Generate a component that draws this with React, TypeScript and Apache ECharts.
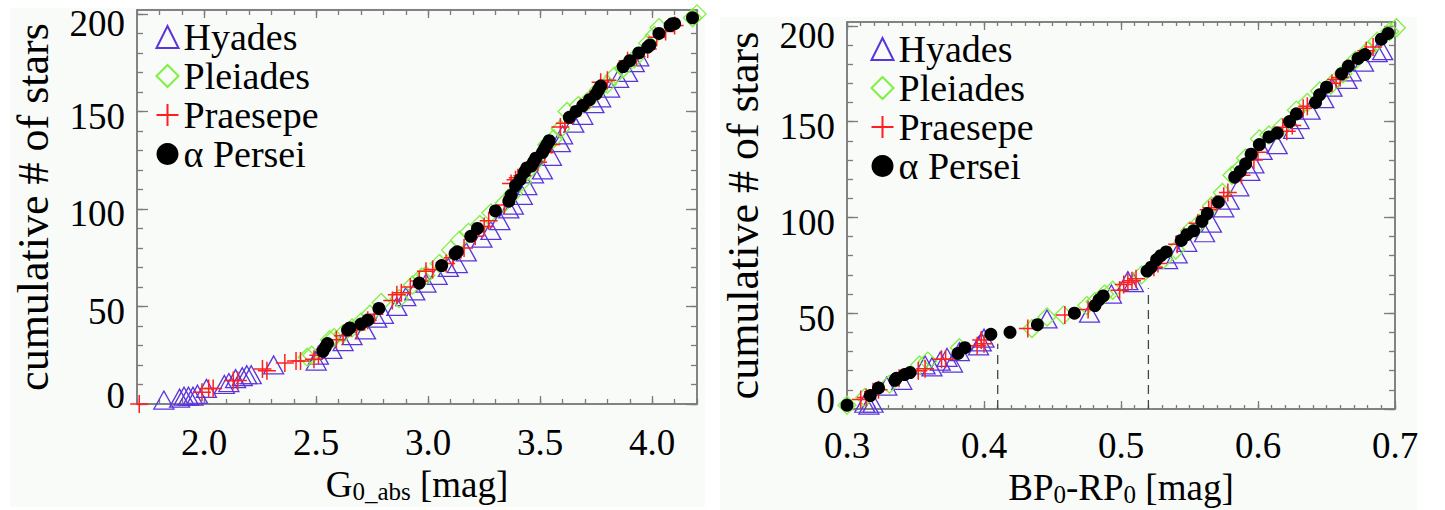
import React, { useEffect, useRef } from 'react';
import * as echarts from 'echarts';

const names = ['Hyades', 'Pleiades', 'Praesepe', 'α Persei'];

// ---- Left panel: G0_abs [mag] vs cumulative number ----
const hyadesG: number[][] = [
  [1.82, 2], [1.89, 3], [1.91, 4], [1.93, 4], [1.95, 4], [1.97, 5], [2.01, 8], [2.09, 10], [2.11, 11],
  [2.14, 13], [2.17, 14], [2.19, 15], [2.21, 15], [2.31, 20], [2.50, 22], [2.51, 25], [2.57, 28],
  [2.62, 32], [2.66, 35], [2.72, 38], [2.77, 44], [2.80, 46], [2.86, 50], [2.90, 55], [2.94, 58],
  [2.99, 62], [3.04, 66], [3.09, 70], [3.13, 72], [3.17, 78], [3.24, 85], [3.28, 89], [3.32, 94],
  [3.36, 100], [3.38, 102], [3.42, 107], [3.44, 112], [3.47, 118], [3.51, 120], [3.55, 127],
  [3.59, 134], [3.60, 138], [3.65, 144], [3.69, 148], [3.74, 154], [3.77, 157], [3.81, 162],
  [3.85, 167], [3.89, 170], [3.92, 175], [3.94, 178]
];
const pleiadesG: number[][] = [
  [2.46, 24], [2.48, 25], [2.56, 33], [2.58, 34], [2.62, 36], [2.66, 39], [2.70, 42], [2.74, 46],
  [2.79, 52], [2.87, 54], [2.93, 61], [2.97, 65], [2.99, 66], [3.05, 72], [3.10, 79], [3.14, 84],
  [3.18, 88], [3.23, 92], [3.28, 98], [3.34, 103], [3.38, 108], [3.42, 114], [3.44, 119], [3.48, 124],
  [3.53, 133], [3.56, 136], [3.59, 141], [3.62, 150], [3.67, 153], [3.71, 155], [3.76, 161],
  [3.80, 164], [3.83, 168], [3.87, 172], [3.92, 177], [3.98, 185], [4.01, 189], [4.03, 193],
  [4.18, 198], [4.20, 200]
];
const praesepeG: number[][] = [
  [1.71, 0], [1.99, 6], [2.02, 8], [2.04, 8], [2.13, 12], [2.15, 12], [2.26, 18], [2.28, 17],
  [2.36, 21], [2.41, 22], [2.43, 22], [2.49, 23], [2.51, 25], [2.59, 33], [2.62, 35], [2.68, 38],
  [2.73, 43], [2.76, 46], [2.84, 53], [2.86, 56], [2.88, 57], [2.92, 60], [2.96, 63], [2.99, 68],
  [3.02, 69], [3.08, 72], [3.11, 75], [3.16, 80], [3.21, 86], [3.25, 91], [3.27, 94], [3.34, 102],
  [3.37, 113], [3.39, 115], [3.40, 116], [3.42, 117], [3.49, 124], [3.52, 129], [3.55, 133],
  [3.59, 142], [3.61, 144], [3.68, 152], [3.72, 156], [3.77, 165], [3.80, 166], [3.89, 176],
  [3.93, 178], [3.98, 182], [4.02, 188], [4.06, 191], [4.10, 194]
];
const perseiG: number[][] = [
  [2.53, 27], [2.54, 29], [2.55, 31], [2.64, 38], [2.65, 39], [2.70, 41], [2.73, 43], [2.78, 49],
  [2.96, 62], [3.06, 71], [3.12, 77], [3.13, 78], [3.19, 86], [3.22, 90], [3.30, 99], [3.36, 104],
  [3.37, 107], [3.39, 112], [3.41, 115], [3.43, 119], [3.44, 121], [3.46, 122], [3.47, 124],
  [3.48, 126], [3.51, 129], [3.52, 131], [3.53, 133], [3.54, 135], [3.63, 147], [3.66, 150],
  [3.69, 153], [3.72, 156], [3.75, 159], [3.76, 161], [3.77, 163], [3.87, 173], [3.90, 176],
  [3.94, 180], [3.98, 183], [3.99, 184], [4.03, 190], [4.08, 194], [4.09, 195], [4.10, 195],
  [4.18, 198]
];

// ---- Right panel: BP0-RP0 [mag] vs cumulative number ----
const hyadesC: number[][] = [
  [0.313, 3], [0.316, 2], [0.319, 3], [0.329, 12], [0.340, 15], [0.357, 23], [0.362, 22],
  [0.368, 25], [0.373, 27], [0.377, 24], [0.382, 30], [0.396, 33], [0.398, 35], [0.400, 37],
  [0.446, 47], [0.477, 50], [0.493, 60], [0.505, 67], [0.509, 66], [0.534, 78], [0.541, 81],
  [0.548, 87], [0.561, 92], [0.566, 97], [0.575, 105], [0.579, 109], [0.586, 116], [0.594, 124],
  [0.597, 128], [0.603, 135], [0.614, 138], [0.626, 146], [0.630, 151], [0.638, 156], [0.648, 162],
  [0.654, 168], [0.665, 172], [0.668, 176], [0.677, 181], [0.687, 186], [0.691, 187]
];
const pleiadesC: number[][] = [
  [0.300, 2], [0.313, 6], [0.331, 13], [0.353, 23], [0.359, 25], [0.382, 32], [0.435, 42],
  [0.446, 48], [0.458, 49], [0.475, 54], [0.481, 56], [0.488, 60], [0.494, 62], [0.515, 70],
  [0.531, 78], [0.540, 83], [0.550, 93], [0.557, 97], [0.566, 106], [0.574, 113], [0.581, 122],
  [0.586, 125], [0.591, 131], [0.601, 141], [0.608, 143], [0.617, 147], [0.628, 156], [0.636, 160],
  [0.645, 166], [0.653, 169], [0.662, 175], [0.671, 182], [0.680, 187], [0.687, 192], [0.696, 197],
  [0.701, 199]
];
const praesepeC: number[][] = [
  [0.310, 5], [0.314, 6], [0.319, 9], [0.323, 10], [0.338, 16], [0.352, 20], [0.357, 21],
  [0.369, 26], [0.372, 26], [0.395, 33], [0.398, 36], [0.400, 34], [0.432, 42], [0.459, 49],
  [0.476, 52], [0.499, 62], [0.502, 65], [0.505, 66], [0.508, 67], [0.511, 68], [0.524, 74],
  [0.527, 76], [0.541, 86], [0.546, 90], [0.556, 97], [0.564, 104], [0.566, 105], [0.575, 111],
  [0.578, 113], [0.588, 122], [0.597, 130], [0.600, 134], [0.618, 147], [0.621, 145], [0.625, 148],
  [0.633, 157], [0.636, 158], [0.654, 170], [0.657, 172], [0.660, 173], [0.679, 187], [0.684, 189]
];
const perseiC: number[][] = [
  [0.300, 2], [0.317, 7], [0.323, 11], [0.335, 15], [0.336, 16], [0.342, 18], [0.346, 19],
  [0.381, 29], [0.386, 32], [0.405, 39], [0.419, 40], [0.439, 44], [0.466, 50], [0.481, 54],
  [0.484, 57], [0.487, 59], [0.519, 72], [0.522, 74], [0.526, 78], [0.529, 80], [0.533, 82],
  [0.544, 88], [0.548, 91], [0.553, 93], [0.559, 98], [0.563, 102], [0.571, 108], [0.583, 121],
  [0.587, 124], [0.591, 128], [0.595, 133], [0.601, 138], [0.608, 142], [0.614, 144], [0.623, 150],
  [0.628, 154], [0.642, 160], [0.645, 164], [0.650, 168], [0.661, 175], [0.666, 179], [0.673, 183],
  [0.678, 185], [0.690, 193], [0.695, 196]
];

// dashed vertical cut lines in right panel: [x, top y]
const cutLines: number[][] = [[0.41, 34], [0.52, 63]];

// axis ticks
const gRange = [1.7, 4.2];
const cRange = [0.3, 0.7];
const yRange = [0, 202];
const gMajor = [2.0, 2.5, 3.0, 3.5, 4.0];
const cMajor = [0.3, 0.4, 0.5, 0.6, 0.7];
const yMajor = [0, 50, 100, 150, 200];
const gMinor = Array.from({ length: 26 }, (_, i) => +(1.7 + i * 0.1).toFixed(2));
const cMinor = Array.from({ length: 41 }, (_, i) => +(0.3 + i * 0.01).toFixed(3));
const yMinor = Array.from({ length: 21 }, (_, i) => i * 10);

const FONT = '"Liberation Serif", "Times New Roman", Times, serif';
const AX = '#7b7b7b';
const C_HY = '#5a34dc';
const C_PL = '#7ef040';
const C_PR = '#ff1f1f';
const PLUS = 'path://M5,0L5,10M0,5L10,5';

function xAxis(grid: number, range: number[], pos: string, ticks: number[], len: number, labels: number[] | null, margin: number, name: any) {
  return {
    type: 'value', gridIndex: grid, min: range[0], max: range[1], position: pos,
    axisLine: { show: true, onZero: false, lineStyle: { color: AX, width: 1.5 } },
    axisTick: { show: true, inside: true, length: len, customValues: ticks, lineStyle: { color: AX, width: 1.3 } },
    axisLabel: labels
      ? { show: true, customValues: labels, margin, fontSize: 37, fontFamily: FONT, color: '#000', formatter: (v: number) => v.toFixed(1) }
      : { show: false },
    splitLine: { show: false },
    ...(name || {}),
  };
}
function yAxis(grid: number, pos: string, ticks: number[], len: number, labels: number[] | null, name: any) {
  return {
    type: 'value', gridIndex: grid, min: yRange[0], max: yRange[1], position: pos,
    axisLine: { show: true, onZero: false, lineStyle: { color: AX, width: 1.5 } },
    axisTick: { show: true, inside: true, length: len, customValues: ticks, lineStyle: { color: AX, width: 1.3 } },
    axisLabel: labels
      ? {
          show: true, customValues: labels, margin: 12, fontSize: 37, fontFamily: FONT, color: '#000',
          formatter: (v: number) => (v === 0 ? '{z|0}' : v === 200 ? '{t|200}' : '{n|' + v + '}'),
          rich: {
            n: { fontSize: 37, fontFamily: FONT, color: '#000', padding: [10, 0, 0, 0] },
            t: { fontSize: 37, fontFamily: FONT, color: '#000', padding: [20, 0, 0, 0] },
            z: { fontSize: 37, fontFamily: FONT, color: '#000', padding: [0, 0, 18, 0] },
          },
        }
      : { show: false },
    splitLine: { show: false },
    ...(name || {}),
  };
}

const richName = {
  m: { fontSize: 37, fontFamily: FONT, color: '#000' },
  s: { fontSize: 25, fontFamily: FONT, color: '#000', padding: [14, 0, 0, 0] },
};

const yName = {
  name: 'cumulative # of stars', nameLocation: 'middle', nameGap: 82, nameRotate: 90,
  nameTextStyle: { fontSize: 44, fontFamily: FONT, color: '#000' },
};

function scatterSet(data: number[][][], xi: number, yi: number) {
  const base = { type: 'scatter', xAxisIndex: xi, yAxisIndex: yi, clip: false, silent: true };
  return [
    { ...base, name: names[0], data: data[0], symbol: 'triangle', symbolSize: [20, 18], itemStyle: { color: 'rgba(0,0,0,0)', borderColor: C_HY, borderWidth: 1.3, opacity: 1 } },
    { ...base, name: names[1], data: data[1], symbol: 'diamond', symbolSize: [18, 18], itemStyle: { color: 'rgba(0,0,0,0)', borderColor: C_PL, borderWidth: 1.3, opacity: 1 } },
    { ...base, name: names[2], data: data[2], symbol: PLUS, symbolSize: [18, 18], itemStyle: { color: 'none', borderColor: C_PR, borderWidth: 1.5, opacity: 1 } },
    { ...base, name: names[3], data: data[3], symbol: 'circle', symbolSize: 13, itemStyle: { color: '#000', opacity: 1 } },
  ];
}

function legend(left: number, top: number) {
  return {
    left, top, orient: 'vertical', data: names, selectedMode: false,
    itemWidth: 22, itemHeight: 22, itemGap: 1,
    textStyle: { fontSize: 38, fontFamily: FONT, color: '#000', lineHeight: 38 },
  };
}

export default function App() {
  const ref = useRef<HTMLDivElement>(null);
  useEffect(() => {
    if (!ref.current) return;
    const chart = echarts.init(ref.current, null, { renderer: 'svg' });
    const option: any = {
      animation: false,
      backgroundColor: '#ffffff',
      graphic: [
        { type: 'rect', z: -10, shape: { x: 10, y: 8, width: 695, height: 499 }, style: { fill: '#f9fbf8' }, silent: true },
        { type: 'rect', z: -10, shape: { x: 720, y: 17, width: 697, height: 493 }, style: { fill: '#f9fbf8' }, silent: true },
      ],
      grid: [
        { left: 137, top: 10, width: 560, height: 394, outerBoundsMode: 'none', containLabel: false },
        { left: 847, top: 22, width: 548, height: 387, outerBoundsMode: 'none', containLabel: false },
      ],
      legend: [legend(149, 13), legend(864, 25)],
      xAxis: [
        xAxis(0, gRange, 'bottom', gMajor, 8, gMajor, 20, {
          name: '{m|G}{s|0_abs}{m| [mag]}', nameLocation: 'middle', nameGap: 60,
          nameTextStyle: { rich: richName },
        }),
        xAxis(0, gRange, 'bottom', gMinor, 5, null, 0, null),
        xAxis(0, gRange, 'top', gMajor, 8, null, 0, null),
        xAxis(0, gRange, 'top', gMinor, 5, null, 0, null),
        xAxis(1, cRange, 'bottom', cMajor, 8, cMajor, 18, {
          name: '{m|BP}{s|0}{m|-RP}{s|0}{m| [mag]}', nameLocation: 'middle', nameGap: 57,
          nameTextStyle: { rich: richName },
        }),
        xAxis(1, cRange, 'bottom', cMinor, 4, null, 0, null),
        xAxis(1, cRange, 'top', cMajor, 8, null, 0, null),
        xAxis(1, cRange, 'top', cMinor, 4, null, 0, null),
      ],
      yAxis: [
        yAxis(0, 'left', yMajor, 11, yMajor, yName),
        yAxis(0, 'left', yMinor, 6, null, null),
        yAxis(0, 'right', yMajor, 11, null, null),
        yAxis(0, 'right', yMinor, 6, null, null),
        yAxis(1, 'left', yMajor, 11, yMajor, yName),
        yAxis(1, 'left', yMinor, 6, null, null),
        yAxis(1, 'right', yMajor, 11, null, null),
        yAxis(1, 'right', yMinor, 6, null, null),
      ],
      series: [
        ...cutLines.map((c) => ({
          type: 'line', xAxisIndex: 4, yAxisIndex: 4, silent: true, symbol: 'none',
          data: [[c[0], 0], [c[0], c[1]]],
          lineStyle: { color: '#444', width: 1.3, type: [9, 6] },
        })),
        ...scatterSet([hyadesG, pleiadesG, praesepeG, perseiG], 0, 0),
        ...scatterSet([hyadesC, pleiadesC, praesepeC, perseiC], 4, 4),
      ],
    };
    chart.setOption(option);
    return () => chart.dispose();
  }, []);
  return <div ref={ref} style={{ position: 'fixed', left: 0, top: 0, width: 1445, height: 510 }} />;
}
